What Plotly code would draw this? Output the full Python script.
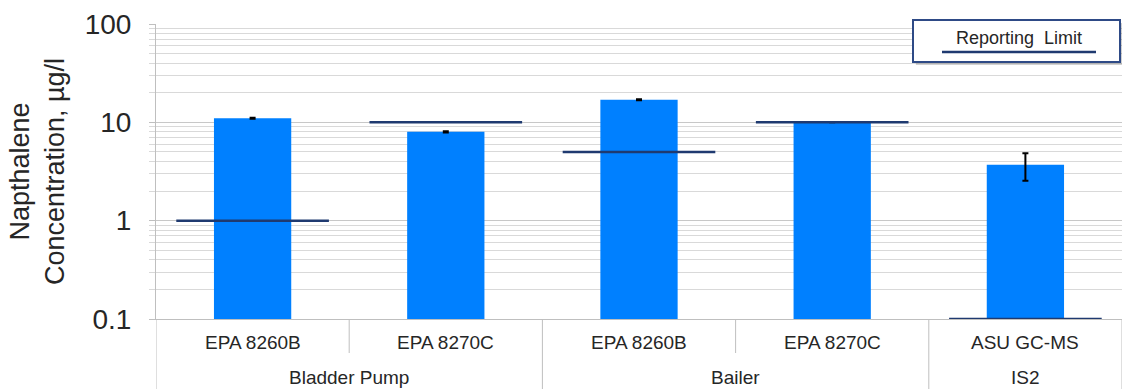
import plotly.graph_objects as go

# Sampling groups, methods and measured naphthalene concentrations (µg/l)
groups = ["Bladder Pump", "Bailer", "IS2"]
group_spans = [(0, 1), (2, 3), (4, 4)]
methods = ["EPA 8260B", "EPA 8270C", "EPA 8260B", "EPA 8270C", "ASU GC-MS"]
concentration = [11.0, 8.0, 17.0, 10.0, 3.7]
conc_error = [0.15, 0.1, 0.2, 0.0, 1.15]
reporting_limit = [1.0, 10.0, 5.0, 10.0, 0.1]
y_ticks = [0.1, 1, 10, 100]
y_tick_text = ["0.1", "1", "10", "100"]

BAR_BLUE = "#0080FF"
NAVY = "#1F3A70"
GRID = "#D9D9D9"
AXIS_GREY = "#BFBFBF"
TEXT = "#262626"
FONT = "Liberation Sans, Arial, sans-serif"

x_pos = list(range(len(methods)))

fig = go.Figure()

fig.add_trace(go.Bar(
    x=x_pos, y=concentration, width=0.4,
    marker=dict(color=BAR_BLUE, line=dict(width=0)),
    error_y=dict(type="data", array=conc_error, visible=True,
                 color="black", thickness=2, width=3),
    showlegend=False,
))

# Reporting-limit segments spanning most of each category
rl_x, rl_y = [], []
for i, v in enumerate(reporting_limit):
    rl_x += [i - 0.395, i + 0.395, None]
    rl_y += [v, v, None]
fig.add_trace(go.Scatter(
    x=rl_x, y=rl_y, mode="lines",
    line=dict(color=NAVY, width=2.5),
    cliponaxis=False, showlegend=False,
))

plot_h = 295.0
shapes = []
annotations = []

# Method labels and separators below the axis
for i, m in enumerate(methods):
    annotations.append(dict(x=i, y=0, xref="x", yref="paper", text=m,
                            showarrow=False, yanchor="middle",
                            yshift=-23, font=dict(size=19, color=TEXT)))
for gi, (g, (a, b)) in enumerate(zip(groups, group_spans)):
    annotations.append(dict(x=(a + b) / 2, y=0, xref="x", yref="paper", text=g,
                            showarrow=False, yanchor="middle",
                            yshift=-58, font=dict(size=19, color=TEXT)))
    if a != b:
        shapes.append(dict(type="line", xref="x", yref="paper",
                           x0=a + 0.5, x1=a + 0.5, y0=0, y1=-34 / plot_h,
                           line=dict(color=AXIS_GREY, width=1)))
    shapes.append(dict(type="line", xref="x", yref="paper",
                       x0=b + 0.5, x1=b + 0.5, y0=0, y1=-72 / plot_h,
                       line=dict(color=AXIS_GREY, width=1)))
shapes.append(dict(type="line", xref="x", yref="paper",
                   x0=-0.5, x1=-0.5, y0=0, y1=-72 / plot_h,
                   line=dict(color=AXIS_GREY, width=1)))

# Legend box: label with a line sample underneath
lx0, lx1 = (913 - 156) / 966, (1120 - 156) / 966
ly0, ly1 = (319 - 62) / plot_h, (319 - 20) / plot_h
shapes.append(dict(type="rect", xref="paper", yref="paper",
                   x0=lx0 + 0.003, x1=lx1 + 0.003, y0=ly0 - 0.01, y1=ly1 - 0.01,
                   fillcolor="rgba(0,0,0,0.18)", line=dict(width=0)))
shapes.append(dict(type="rect", xref="paper", yref="paper",
                   x0=lx0, x1=lx1, y0=ly0, y1=ly1,
                   fillcolor="white", line=dict(color="#2E4A86", width=2)))
shapes.append(dict(type="line", xref="paper", yref="paper",
                   x0=(942 - 156) / 966, x1=(1096 - 156) / 966,
                   y0=(319 - 52) / plot_h, y1=(319 - 52) / plot_h,
                   line=dict(color=NAVY, width=2.5)))
annotations.append(dict(x=(1019 - 156) / 966, y=(319 - 38) / plot_h,
                        xref="paper", yref="paper", text="Reporting  Limit",
                        showarrow=False, xanchor="center", yanchor="middle",
                        font=dict(size=18, color=TEXT)))

fig.update_layout(
    width=1122, height=389,
    margin=dict(l=156, r=0, t=24, b=70),
    paper_bgcolor="white", plot_bgcolor="white",
    font=dict(family=FONT, color=TEXT),
    bargap=0.6,
    shapes=shapes, annotations=annotations,
    xaxis=dict(range=[-0.5, 4.5], showticklabels=False, ticks="",
               showgrid=False, zeroline=False,
               showline=True, linecolor=AXIS_GREY, linewidth=1),
    yaxis=dict(type="log", range=[-1, 2],
               tickvals=y_ticks, ticktext=y_tick_text,
               tickfont=dict(size=28, color=TEXT),
               ticks="outside", ticklen=6, tickcolor=AXIS_GREY,
               ticklabelstandoff=12,
               showgrid=True, gridcolor="#C8C8C8", gridwidth=1,
               showline=True, linecolor=AXIS_GREY, linewidth=1,
               zeroline=False,
               minor=dict(showgrid=True, gridcolor=GRID, gridwidth=1,
                          ticks="outside", ticklen=6, tickcolor=GRID,
                          tickvals=[m * 10 ** e for e in (-1, 0, 1)
                                    for m in range(2, 10)]),
               title=dict(text="Napthalene<br>Concentration, µg/l",
                          font=dict(size=27, color=TEXT),
                          standoff=12)),
)

fig.write_html("out.html")
